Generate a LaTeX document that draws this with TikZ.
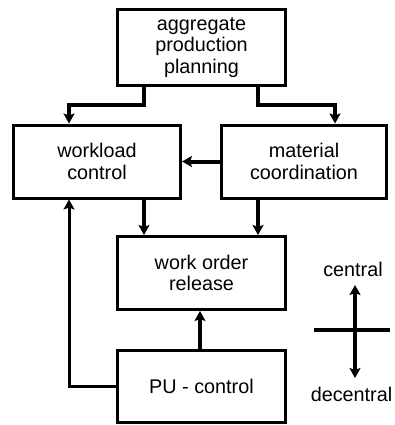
\documentclass[tikz,border=0pt]{standalone}
\usepackage{fontspec}
\setmainfont{Liberation Sans}
\usetikzlibrary{arrows.meta}
\tikzset{
    blk/.style={draw, line width=3pt, minimum width=168pt, minimum height=73pt, align=center, inner sep=0pt},
    flow/.style={line width=4pt, -{Stealth[length=10pt,width=11pt,inset=2pt]}},
    back/.style={line width=3pt, -{Stealth[length=10pt,width=11pt,inset=2pt]}}
}
\begin{document}
\begin{tikzpicture}[x=1pt, y=-1pt, font=\fontsize{19.8}{21.5}\selectfont]
    \useasboundingbox (0,0) rectangle (394,425);
    \node[blk, minimum height=76pt] (app) at (201.5,47.5) {aggregate\\production\\planning};
    \node[blk, minimum width=167pt] (wl) at (97,161.5) {workload\\control};
    \node[blk, minimum width=165pt] (mc) at (304,161.5) {material\\coordination};
    \node[blk] (wor) at (201.5,273) {work order\\release};
    \node[blk, minimum height=72pt] (pu) at (201.5,386) {PU - control};
    \draw[flow] ([xshift=-57.5pt]app.south) -- ++(0,18) -| ([xshift=-28pt]wl.north);
    \draw[flow] ([xshift=56.5pt]app.south) -- ++(0,18) -| ([xshift=31pt]mc.north);
    \draw[flow] (mc.west) -- (wl.east);
    \draw[flow] ([xshift=47pt]wl.south) -- ([xshift=-57.5pt]wor.north);
    \draw[flow] ([xshift=-46pt]mc.south) -- ([xshift=56.5pt]wor.north);
    \draw[flow] ([xshift=-1.5pt]pu.north) -- ([xshift=-1.5pt]wor.south);
    \draw[back] (pu.west) -| ([xshift=-28pt]wl.south);
% central / decentral
    \coordinate (mid) at (355,330);
    \coordinate (up) at (355,285);
    \coordinate (dn) at (355,378);
    \node (cen) at (353,269) {central};
    \node (dec) at (351.5,394) {decentral};
    \draw[line width=4pt] (314,330) -- (390,330);
    \draw[flow] (mid) -- (up);
    \draw[flow] (mid) -- (dn);
\end{tikzpicture}
\end{document}
